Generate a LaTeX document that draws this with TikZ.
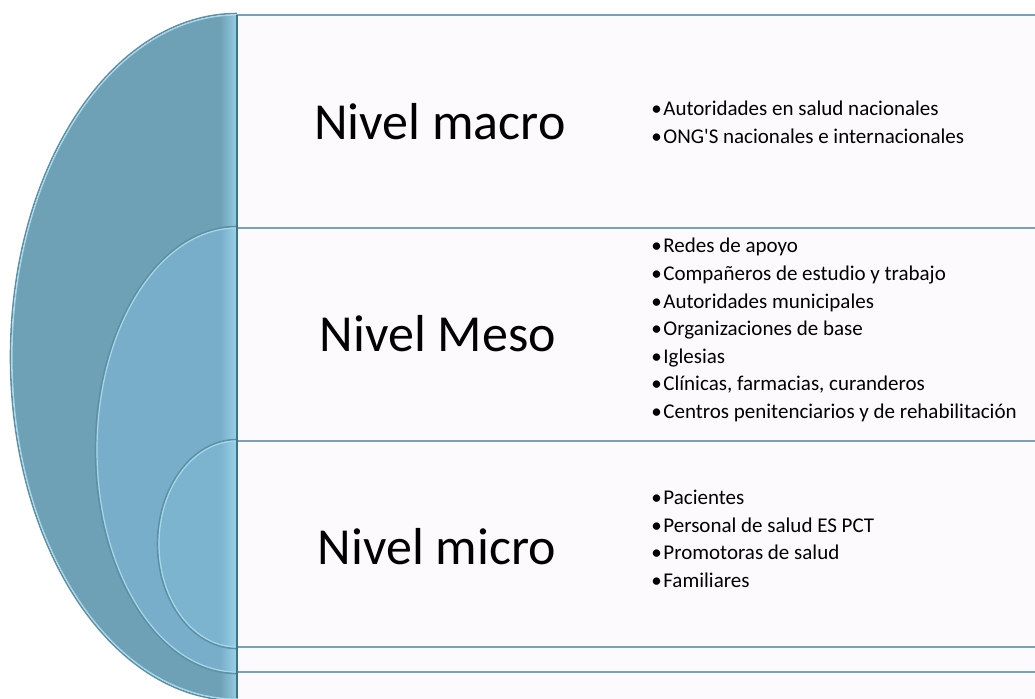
\documentclass[tikz,border=0pt]{standalone}
\usepackage{fontspec}
\setmainfont{Carlito}
\definecolor{outerc}{HTML}{6EA1B5}
\definecolor{midc}{HTML}{79AECB}
\definecolor{innc}{HTML}{7CB3CF}
\definecolor{glow}{HTML}{A3DDF0}
\definecolor{edgelight}{HTML}{A6D8EA}
\definecolor{edgedark}{HTML}{5E8FA4}
\definecolor{boxfill}{HTML}{FCFAFD}
\definecolor{boxline}{HTML}{7A9FB8}
\definecolor{leftline}{HTML}{3E7288}
\newcommand\itm{\makebox[6pt][l]{•}}
\newcommand\mydisc[4]{%
  \begin{scope}
    \clip (0,0) rectangle (237,698);
    \fill[#4] (237,#1) ellipse[x radius=#2, y radius=#3];
    \begin{scope}
      \clip (237,#1) ellipse[x radius=#2, y radius=#3];
      \shade[left color=#4, right color=glow!75!#4] (220,0) rectangle (237,698);
    \end{scope}
    \draw[edgedark, line width=0.8pt] (237,#1) ellipse[x radius=#2+1.5, y radius=#3+1.5];
    \draw[edgelight, line width=0.6pt] (237,#1) ellipse[x radius=#2, y radius=#3];
  \end{scope}}
\begin{document}
\begin{tikzpicture}[x=0.5pt,y=-0.5pt,
  boxst/.style={draw=boxline, line width=0.8pt, fill=boxfill},
  big/.style={font=\fontsize{26pt}{30pt}\selectfont, inner sep=0pt},
  list/.style={font=\fontsize{10.5pt}{13.8pt}\selectfont, align=left, inner sep=0pt, anchor=west}]
\useasboundingbox (0,0) rectangle (1035,698);
\begin{scope}
\clip (0,0) rectangle (1035,698);
% boxes
\path[boxst] (237,15) rectangle (1045,228);
\path[boxst] (237,228) rectangle (1045,441);
\path[boxst] (237,441) rectangle (1045,647);
\path[boxst] (237,647) rectangle (1045,672);
\path[boxst] (237,672) rectangle (1045,720);
% nested half discs
\mydisc{357}{225}{342}{outerc}
\mydisc{450}{140}{222}{midc}
\mydisc{544}{78}{103}{innc}
\draw[leftline, line width=1pt] (237,15) -- (237,698);
\end{scope}
% labels
\node[big] (macro) at (440,122) {Nivel macro};
\node[big] (meso) at (438,334) {Nivel Meso};
\node[big] (micro) at (437,547) {Nivel micro};
\node[list] (macrol) at (651,122) {\itm Autoridades en salud nacionales\\ \itm ONG\textquotesingle S nacionales e internacionales};
\node[list] (mesol) at (651,330) {\itm Redes de apoyo\\ \itm Compañeros de estudio y trabajo\\ \itm Autoridades municipales\\ \itm Organizaciones de base\\ \itm Iglesias\\ \itm Clínicas, farmacias, curanderos\\ \itm Centros penitenciarios y de rehabilitación};
\node[list] (microl) at (651,539) {\itm Pacientes\\ \itm Personal de salud ES PCT\\ \itm Promotoras de salud\\ \itm Familiares};
\end{tikzpicture}
\end{document}
